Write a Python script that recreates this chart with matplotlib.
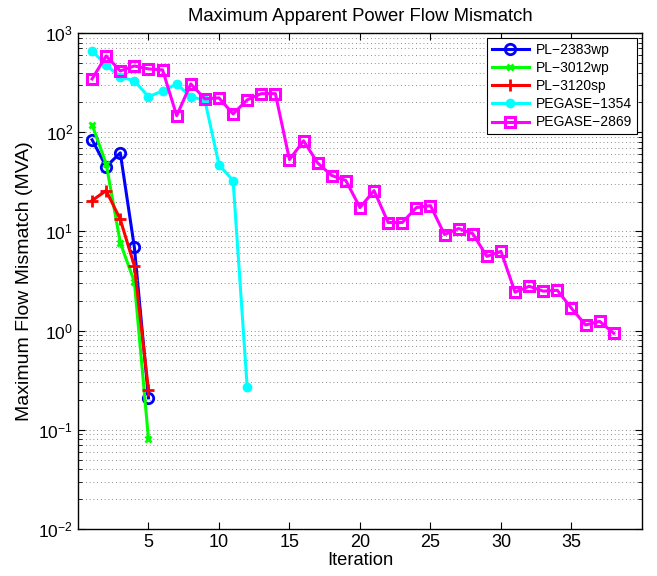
import numpy as np
import matplotlib
matplotlib.use('Agg')
import matplotlib.pyplot as plt
from matplotlib.ticker import LogLocator, NullFormatter

plt.rcParams['font.family'] = ['Liberation Sans', 'DejaVu Sans']
plt.rcParams['mathtext.fontset'] = 'custom'
plt.rcParams['mathtext.rm'] = 'Liberation Sans'
plt.rcParams['mathtext.it'] = 'Liberation Sans:italic'
plt.rcParams['mathtext.bf'] = 'Liberation Sans:bold'

# values
pl2383_iter = [1, 2, 3, 4, 5]
pl2383 = [84, 45, 62, 6.9, 0.21]

pl3012_iter = [1, 2, 3, 4, 5]
pl3012 = [119, 48, 7.7, 3.1, 0.081]

pl3120_iter = [1, 2, 3, 4, 5]
pl3120 = [20.5, 25.8, 13.2, 4.5, 0.25]

peg1354_iter = list(range(1, 13))
peg1354 = [660, 476, 361, 330, 228, 261, 307, 228, 210, 47, 32.6, 0.27]

peg2869_iter = list(range(1, 39))
peg2869 = [345, 588, 415, 466, 435, 425, 147, 307, 217, 222, 153, 212,
           245, 245, 53, 82, 49, 36.6, 32.6, 17.4, 25.8, 12.3, 12.3, 17.4,
           18.2, 9.3, 10.7, 9.5, 5.6, 6.3, 2.44, 2.8, 2.5, 2.55, 1.68, 1.14,
           1.24, 0.94]

fig = plt.figure(figsize=(6.57, 5.76), dpi=100)
ax = fig.add_axes([0.1187, 0.0816, 0.8584, 0.861])

lw = 2.2
ax.semilogy(pl2383_iter, pl2383, color=(0, 0, 1), lw=lw, marker='o', ms=7.5,
            mfc='none', mew=2.0, label='PL\u22122383wp')
ax.semilogy(pl3012_iter, pl3012, color=(0, 1, 0), lw=lw, marker='x', ms=5,
            mew=2.0, label='PL\u22123012wp')
ax.semilogy(pl3120_iter, pl3120, color=(1, 0, 0), lw=lw, marker='+', ms=8,
            mew=2.0, label='PL\u22123120sp')
ax.semilogy(peg1354_iter, peg1354, color=(0, 1, 1), lw=lw, marker='o', ms=6,
            mew=1, label='PEGASE\u22121354')
ax.semilogy(peg2869_iter, peg2869, color=(1, 0, 1), lw=lw, marker='s', ms=7,
            mfc='none', mew=2.2, label='PEGASE\u22122869')

ax.set_xlim(0, 40)
ax.set_ylim(1e-2, 1e3)
ax.set_xticks([5, 10, 15, 20, 25, 30, 35])
ax.yaxis.set_major_locator(LogLocator(base=10, numticks=10))
ax.yaxis.set_minor_locator(LogLocator(base=10, subs=np.arange(2, 10), numticks=20))
ax.yaxis.set_minor_formatter(NullFormatter())
ax.tick_params(which='both', direction='in', top=True, right=True)
ax.tick_params(axis='x', labelsize=13)
ax.tick_params(axis='y', labelsize=12.5)
ax.tick_params(which='major', length=5)
ax.tick_params(which='minor', length=3)
ax.grid(True, axis='y', which='both', linestyle=(0, (1, 3.5)), color='0.4',
        linewidth=0.6)
for s in ax.spines.values():
    s.set_linewidth(1.0)

ax.set_title('Maximum Apparent Power Flow Mismatch', fontsize=13.3, pad=9)
ax.set_xlabel('Iteration', fontsize=13.2, labelpad=1)
ax.set_ylabel('Maximum Flow Mismatch (MVA)', fontsize=14, labelpad=4)

leg = ax.legend(loc='upper right', fontsize=10, fancybox=False, framealpha=1,
                edgecolor='k', borderaxespad=0.35, handlelength=2.7,
                labelspacing=0.3, borderpad=0.35, handletextpad=0.5)
leg.get_frame().set_linewidth(0.8)

fig.savefig('out.png', dpi=100)
